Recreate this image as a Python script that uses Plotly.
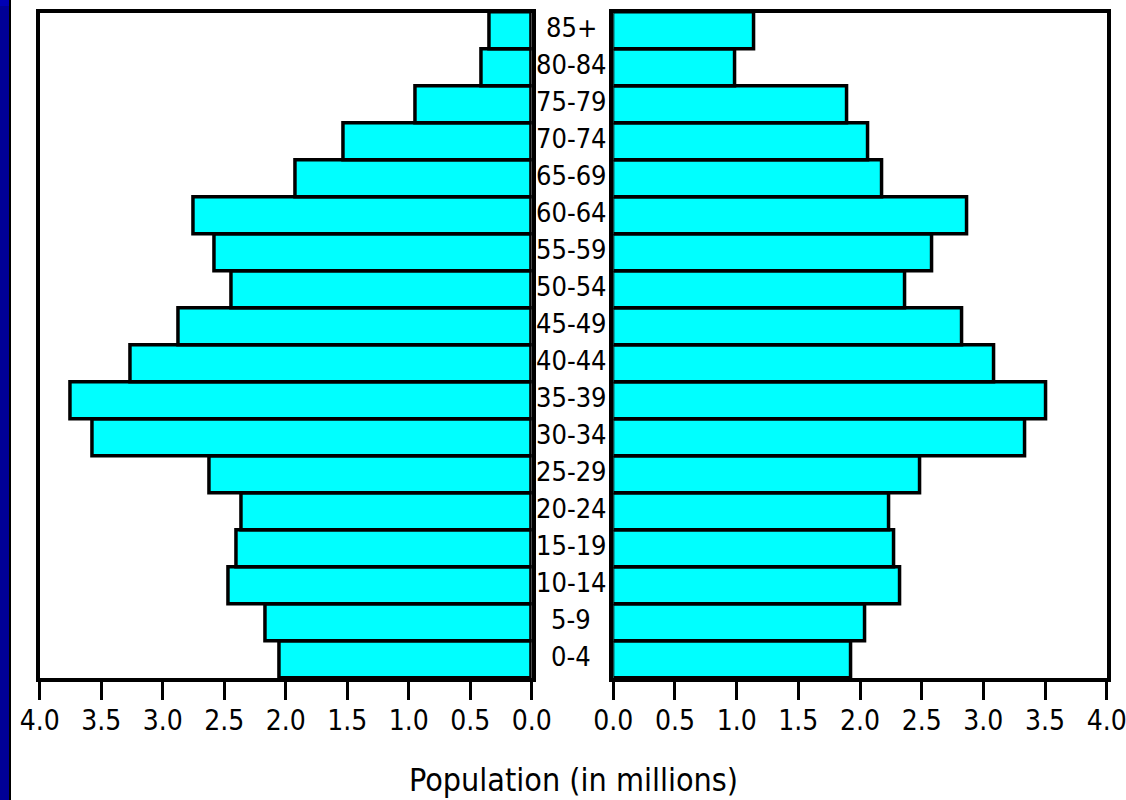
import plotly.graph_objects as go

age_groups = ["0-4", "5-9", "10-14", "15-19", "20-24", "25-29", "30-34", "35-39",
              "40-44", "45-49", "50-54", "55-59", "60-64", "65-69", "70-74",
              "75-79", "80-84", "85+"]
left_values = [2.05, 2.16, 2.46, 2.40, 2.36, 2.62, 3.57, 3.75, 3.26, 2.87,
               2.44, 2.58, 2.75, 1.92, 1.53, 0.94, 0.41, 0.34]
right_values = [1.93, 2.04, 2.33, 2.28, 2.24, 2.49, 3.34, 3.51, 3.09, 2.83,
                2.37, 2.59, 2.87, 2.18, 2.07, 1.90, 0.99, 1.14]
tick_vals = [0.0, 0.5, 1.0, 1.5, 2.0, 2.5, 3.0, 3.5, 4.0]
tick_text = ["0.0", "0.5", "1.0", "1.5", "2.0", "2.5", "3.0", "3.5", "4.0"]
axis_title = "Population (in millions)"

W, H = 1126, 800
FONT = "DejaVu Sans Condensed, DejaVu Sans, sans-serif"
CYAN = "#00FFFF"

fig = go.Figure()
fig.add_trace(go.Bar(y=age_groups, x=left_values, orientation="h",
                     marker=dict(color=CYAN, line=dict(color="black", width=3.5)),
                     xaxis="x", yaxis="y", showlegend=False, hoverinfo="x+y"))
fig.add_trace(go.Bar(y=age_groups, x=right_values, orientation="h",
                     marker=dict(color=CYAN, line=dict(color="black", width=3.5)),
                     xaxis="x2", yaxis="y2", showlegend=False, hoverinfo="x+y"))

ydom = [1 - 678 / H, 1 - 12.5 / H]
common_x = dict(tickvals=tick_vals, ticktext=tick_text, ticks="outside", ticklen=18,
                tickwidth=3, tickcolor="black", showline=True, linewidth=3.5,
                linecolor="black", mirror=True, showgrid=False, zeroline=False,
                tickfont=dict(family=FONT, size=28, color="black"),
                ticklabelstandoff=-3, ticklabeloverflow="allow",
                automargin=False, fixedrange=True)
common_y = dict(categoryorder="array", categoryarray=age_groups,
                range=[-0.5, len(age_groups) - 0.5], showticklabels=False,
                ticks="", showline=True, linewidth=3.5, linecolor="black",
                mirror=True, showgrid=False, zeroline=False, domain=ydom,
                automargin=False, fixedrange=True)

fig.update_layout(
    width=W, height=H, autosize=False,
    margin=dict(l=0, r=0, t=0, b=0, pad=0, autoexpand=False),
    paper_bgcolor="white", plot_bgcolor="white",
    bargap=0,
    xaxis=dict(domain=[39.7 / W, 531.7 / W], range=[4, 0], anchor="y", **common_x),
    xaxis2=dict(domain=[613.3 / W, 1106.7 / W], range=[0, 4], anchor="y2", **common_x),
    yaxis=dict(anchor="x", **common_y),
    yaxis2=dict(anchor="x2", **common_y),
    shapes=[
        dict(type="rect", xref="paper", yref="paper", x0=0, x1=9 / W, y0=0, y1=1,
             fillcolor="#000096", line=dict(width=0), layer="above"),
        dict(type="rect", xref="paper", yref="paper", x0=0, x1=9 / W,
             y0=1 - 6 / H, y1=1, fillcolor="#0000B4", line=dict(width=0), layer="above"),
        dict(type="rect", xref="paper", yref="paper", x0=9 / W, x1=11 / W, y0=0, y1=1,
             fillcolor="black", line=dict(width=0), layer="above"),
    ],
)

annotations = []
for ag in age_groups:
    annotations.append(dict(text=ag, xref="paper", yref="y", x=571 / W, y=ag,
                            yshift=3, showarrow=False, xanchor="center", yanchor="middle",
                            font=dict(family=FONT, size=27, color="black")))
annotations.append(dict(text=axis_title, xref="paper", yref="paper", x=573 / W,
                        y=1 - 780 / H, showarrow=False, xanchor="center", yanchor="middle",
                        font=dict(family=FONT, size=32, color="black")))
fig.update_layout(annotations=annotations)

fig.write_html(
    "out.html",
    config={"responsive": False, "displayModeBar": False},
    post_script="document.body.style.margin='0';document.body.style.overflow='hidden';",
)
